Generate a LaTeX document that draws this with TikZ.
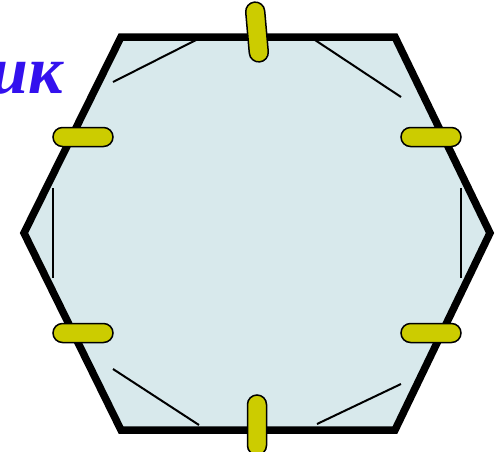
\documentclass[tikz,border=0pt]{standalone}
\usepackage{fontspec}
\usepackage{xcolor}
\usetikzlibrary{shapes.misc, positioning, calc}
\newfontfamily\titlefont{Liberation Serif}
\definecolor{hexfill}{HTML}{D8E9EC}
\definecolor{pegyellow}{HTML}{CCCC00}
\definecolor{titleblue}{HTML}{3311EE}

\begin{document}
\begin{tikzpicture}[x=1pt, y=-1pt,
    frame/.style={draw, line width=7.5pt, fill=hexfill},
    peg/.style={rounded rectangle, draw, line width=1.5pt, fill=pegyellow,
        minimum width=60pt, minimum height=19pt, inner sep=0pt},
    mark line/.style={line width=2pt}]
    \useasboundingbox (0,0) rectangle (501,451);
    % corners of the hexagon
    \coordinate (tl) at (121,37);
    \coordinate (tr) at (395,37);
    \coordinate (r) at (490,233);
    \coordinate (br) at (395,430);
    \coordinate (bl) at (121,430);
    \coordinate (l) at (24,233);
    \draw[frame] (tl) -- (tr) -- (r) -- (br) -- (bl) -- (l) -- cycle;
    % thin marks at the corners
    \draw[mark line] (113,82) -- (198,39);
    \draw[mark line] (315,40) -- (401,97);
    \draw[mark line] (53,188) -- (53,278);
    \draw[mark line] (461,188) -- (461,278);
    \draw[mark line] (113,369) -- (199,425);
    \draw[mark line] (317,424) -- (401,384);
    % pegs
    \node[peg, rotate=95] (ptop) at (257,32) {};
    \node[peg, rotate=90] (pbot) at (257,425) {};
    \node[peg] (plt) at (83,137) {};
    \node[peg] (plb) at (83,333) {};
    \node[peg] (prt) at (431,137) {};
    \node[peg] (prb) at (431,333) {};
    % title, cut off by the border
    \node[anchor=base east, inner sep=0pt, text=titleblue,
        font=\titlefont\bfseries\itshape\fontsize{68}{70}\selectfont] (title) at (63,93) {ик};
\end{tikzpicture}
\end{document}
